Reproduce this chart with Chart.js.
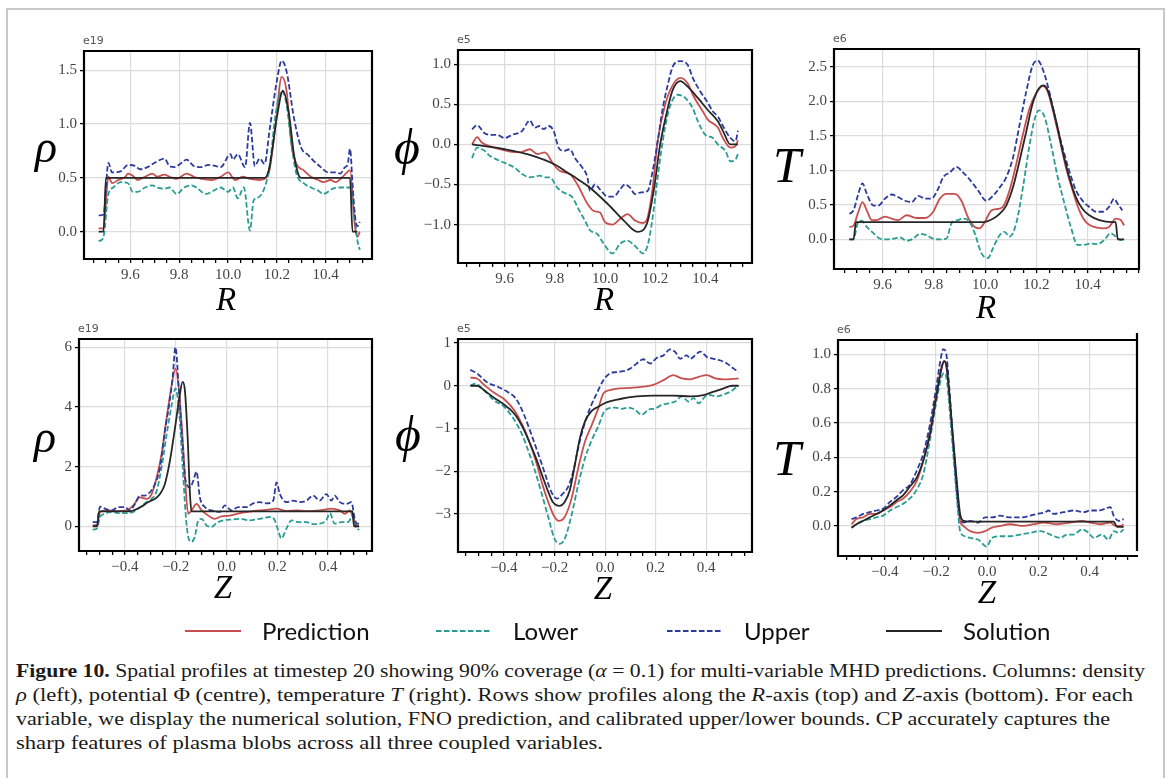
<!DOCTYPE html>
<html>
<head>
<meta charset="utf-8">
<script src="https://cdn.jsdelivr.net/npm/chart.js@4"></script>
<style>
  body { margin: 0; background: #fff; width: 1167px; height: 778px; position: relative; overflow: hidden; }
  .frame { position: absolute; left: 6px; top: 8px; width: 1155px; height: 800px; border: 2px solid #c8c8c8; border-bottom: none; }
  canvas { position: absolute; }
  .ax { position: absolute; font-family: "Liberation Serif", "DejaVu Serif", serif; font-style: italic; line-height: 1; color: #000; transform: translate(-50%, -50%); white-space: nowrap; }
  .expo { position: absolute; font-family: "DejaVu Sans", sans-serif; font-size: 11px; line-height: 11px; color: #555; }
  .leg { position: absolute; font-family: Lato, "Open Sans", sans-serif; font-size: 24px; line-height: 24px; color: #111; white-space: nowrap; }
  .cap { position: absolute; left: 16px; top: 659px; font-family: "Liberation Serif", serif; font-size: 19px; line-height: 24px; color: #1a1a1a; }
  .cap span.l { display: block; white-space: nowrap; transform-origin: 0 0; width: max-content; }
</style>
</head>
<body>
<div class="frame"></div>
<div class="cap" id="cap">
  <span class="l"><b>Figure 10.</b> Spatial profiles at timestep 20 showing 90% coverage (<i>α</i> = 0.1) for multi-variable MHD predictions. Columns: density</span>
  <span class="l"><i>ρ</i> (left), potential Φ (centre), temperature <i>T</i> (right). Rows show profiles along the <i>R</i>-axis (top) and <i>Z</i>-axis (bottom). For each</span>
  <span class="l">variable, we display the numerical solution, FNO prediction, and calibrated upper/lower bounds. CP accurately captures the</span>
  <span class="l">sharp features of plasma blobs across all three coupled variables.</span>
</div>
<script>
// ---- data: [position, value] pairs ----
const seriesNames = ['Prediction', 'Lower', 'Upper', 'Solution'];
const rTicks = [9.6, 9.8, 10.0, 10.2, 10.4];
const zTicks = [-0.4, -0.2, 0.0, 0.2, 0.4];

// density along R (e19)
const rhoR_yTicks = [0.0, 0.5, 1.0, 1.5];
const rhoR_pred = [[9.47,0.03],[9.49,0.03],[9.51,0.51],[9.525,0.45],[9.55,0.48],[9.58,0.51],[9.59,0.54],[9.61,0.52],[9.63,0.48],[9.66,0.51],[9.69,0.54],[9.71,0.51],[9.74,0.53],[9.76,0.51],[9.79,0.49],[9.83,0.54],[9.86,0.51],[9.89,0.49],[9.935,0.48],[9.97,0.51],[10.00,0.55],[10.03,0.48],[10.06,0.51],[10.09,0.49],[10.13,0.48],[10.16,0.51],[10.17,0.57],[10.195,1.00],[10.22,1.44],[10.24,1.31],[10.26,0.81],[10.28,0.63],[10.31,0.57],[10.34,0.51],[10.37,0.48],[10.39,0.46],[10.42,0.48],[10.44,0.46],[10.47,0.51],[10.50,0.57],[10.52,0.05],[10.53,-0.05],[10.54,0.00]];
const rhoR_lo = [[9.47,-0.09],[9.48,-0.08],[9.49,-0.05],[9.51,0.35],[9.53,0.41],[9.56,0.46],[9.59,0.45],[9.61,0.37],[9.63,0.37],[9.66,0.41],[9.69,0.43],[9.71,0.41],[9.74,0.40],[9.76,0.41],[9.79,0.35],[9.82,0.41],[9.85,0.43],[9.87,0.41],[9.91,0.35],[9.94,0.38],[9.97,0.41],[10.00,0.37],[10.02,0.41],[10.04,0.31],[10.065,0.41],[10.09,0.01],[10.105,0.29],[10.125,0.32],[10.15,0.41],[10.17,0.60],[10.195,1.09],[10.22,1.31],[10.24,1.18],[10.26,0.81],[10.28,0.54],[10.31,0.45],[10.34,0.41],[10.37,0.38],[10.39,0.35],[10.43,0.40],[10.46,0.41],[10.50,0.41],[10.515,0.23],[10.53,-0.08],[10.54,-0.17]];
const rhoR_up = [[9.47,0.15],[9.49,0.16],[9.51,0.64],[9.525,0.55],[9.56,0.56],[9.59,0.62],[9.62,0.61],[9.64,0.58],[9.67,0.60],[9.70,0.64],[9.74,0.68],[9.76,0.61],[9.78,0.60],[9.81,0.64],[9.83,0.67],[9.86,0.61],[9.89,0.60],[9.92,0.62],[9.95,0.61],[9.97,0.60],[10.01,0.72],[10.02,0.67],[10.04,0.72],[10.07,0.60],[10.09,1.01],[10.11,0.61],[10.13,0.68],[10.15,0.63],[10.17,0.94],[10.20,1.40],[10.22,1.59],[10.24,1.49],[10.27,1.06],[10.30,0.78],[10.33,0.71],[10.35,0.66],[10.38,0.60],[10.41,0.55],[10.44,0.55],[10.46,0.54],[10.48,0.60],[10.49,0.62],[10.50,0.77],[10.51,0.45],[10.52,0.15],[10.53,0.05],[10.54,0.09]];
const rhoR_sol = [[9.47,0],[9.49,0],[9.50,0.5],[10.15,0.5],[10.17,0.6],[10.20,1.06],[10.225,1.31],[10.25,1.09],[10.27,0.72],[10.29,0.52],[10.30,0.5],[10.50,0.5],[10.51,0],[10.53,0]];

// potential along R (e5)
const phiR_yTicks = [-1.0, -0.5, 0.0, 0.5, 1.0];
const phiR_pred = [[9.47,0.0],[9.49,0.09],[9.51,0.02],[9.54,-0.02],[9.58,-0.06],[9.62,-0.09],[9.66,-0.10],[9.70,-0.06],[9.73,-0.12],[9.76,-0.10],[9.795,-0.25],[9.82,-0.33],[9.86,-0.37],[9.89,-0.50],[9.93,-0.74],[9.955,-0.83],[9.98,-0.85],[10.00,-0.97],[10.03,-1.0],[10.06,-0.93],[10.09,-0.87],[10.12,-0.95],[10.15,-0.98],[10.17,-0.91],[10.19,-0.54],[10.21,0.04],[10.24,0.50],[10.27,0.74],[10.30,0.83],[10.33,0.76],[10.35,0.62],[10.39,0.41],[10.41,0.31],[10.45,0.21],[10.47,0.08],[10.50,-0.04],[10.52,-0.02],[10.53,0.05]];
const phiR_lo = [[9.47,-0.17],[9.49,-0.04],[9.52,-0.08],[9.54,-0.14],[9.57,-0.19],[9.60,-0.23],[9.64,-0.29],[9.67,-0.37],[9.70,-0.41],[9.74,-0.39],[9.76,-0.41],[9.78,-0.41],[9.81,-0.54],[9.835,-0.60],[9.87,-0.66],[9.895,-0.81],[9.92,-0.95],[9.94,-1.07],[9.97,-1.12],[9.995,-1.24],[10.03,-1.36],[10.06,-1.24],[10.09,-1.20],[10.11,-1.24],[10.13,-1.30],[10.15,-1.36],[10.17,-1.26],[10.19,-0.91],[10.21,-0.41],[10.23,0.04],[10.25,0.37],[10.27,0.56],[10.29,0.62],[10.32,0.58],[10.35,0.45],[10.37,0.29],[10.40,0.12],[10.43,0.08],[10.45,0.0],[10.48,-0.08],[10.50,-0.21],[10.52,-0.19],[10.53,-0.12]];
const phiR_up = [[9.47,0.19],[9.49,0.24],[9.52,0.14],[9.54,0.12],[9.57,0.12],[9.60,0.08],[9.63,0.12],[9.67,0.17],[9.69,0.27],[9.70,0.30],[9.72,0.21],[9.74,0.23],[9.755,0.19],[9.775,0.23],[9.795,0.17],[9.815,-0.04],[9.835,-0.08],[9.86,-0.06],[9.88,-0.17],[9.91,-0.29],[9.93,-0.41],[9.94,-0.58],[9.96,-0.50],[9.98,-0.56],[10.01,-0.65],[10.035,-0.65],[10.06,-0.56],[10.08,-0.50],[10.10,-0.54],[10.12,-0.62],[10.14,-0.60],[10.17,-0.58],[10.19,-0.33],[10.21,0.04],[10.23,0.45],[10.25,0.74],[10.27,0.97],[10.30,1.04],[10.33,0.99],[10.35,0.83],[10.38,0.66],[10.41,0.52],[10.43,0.41],[10.45,0.35],[10.47,0.23],[10.50,0.08],[10.52,0.04],[10.53,0.17]];
const phiR_sol = [[9.47,0],[9.60,-0.06],[9.70,-0.13],[9.80,-0.25],[9.85,-0.35],[9.89,-0.43],[9.94,-0.54],[10.01,-0.74],[10.075,-0.95],[10.13,-1.09],[10.167,-0.99],[10.194,-0.58],[10.22,0.0],[10.25,0.45],[10.27,0.68],[10.30,0.79],[10.33,0.72],[10.37,0.58],[10.41,0.43],[10.45,0.29],[10.47,0.17],[10.50,0.0],[10.53,0.0]];

// temperature along R (e6)
const TR_yTicks = [0.0, 0.5, 1.0, 1.5, 2.0, 2.5];
const TR_pred = [[9.47,0.18],[9.486,0.20],[9.505,0.40],[9.521,0.54],[9.538,0.42],[9.557,0.28],[9.577,0.28],[9.609,0.33],[9.635,0.30],[9.661,0.28],[9.693,0.35],[9.732,0.31],[9.765,0.31],[9.797,0.40],[9.823,0.59],[9.849,0.66],[9.881,0.66],[9.907,0.56],[9.933,0.32],[9.959,0.18],[9.978,0.16],[9.998,0.25],[10.024,0.42],[10.049,0.44],[10.069,0.47],[10.095,0.71],[10.121,1.09],[10.147,1.52],[10.173,1.90],[10.198,2.11],[10.224,2.22],[10.244,2.14],[10.263,1.88],[10.289,1.47],[10.315,1.04],[10.341,0.71],[10.367,0.42],[10.393,0.25],[10.425,0.18],[10.458,0.16],[10.483,0.18],[10.509,0.30],[10.529,0.28],[10.542,0.20]];
const TR_lo = [[9.47,0.0],[9.486,0.0],[9.502,0.23],[9.518,0.27],[9.538,0.18],[9.564,0.09],[9.59,0.01],[9.616,0.0],[9.641,0.01],[9.667,0.03],[9.693,-0.02],[9.719,0.01],[9.745,0.08],[9.771,0.06],[9.797,0.01],[9.823,0.0],[9.849,0.01],[9.868,0.23],[9.894,0.28],[9.913,0.30],[9.933,0.28],[9.959,0.09],[9.985,-0.20],[10.011,-0.27],[10.03,-0.13],[10.056,0.06],[10.075,0.11],[10.095,0.04],[10.121,0.23],[10.147,0.75],[10.173,1.37],[10.192,1.73],[10.209,1.87],[10.231,1.78],[10.257,1.37],[10.283,0.90],[10.309,0.52],[10.334,0.18],[10.36,-0.08],[10.386,-0.08],[10.412,-0.06],[10.438,-0.07],[10.464,-0.01],[10.49,0.09],[10.509,0.04],[10.529,-0.01],[10.539,0.0]];
const TR_up = [[9.47,0.37],[9.486,0.42],[9.505,0.66],[9.521,0.81],[9.538,0.66],[9.564,0.49],[9.583,0.49],[9.609,0.59],[9.635,0.65],[9.661,0.61],[9.687,0.56],[9.713,0.54],[9.739,0.63],[9.765,0.59],[9.79,0.59],[9.816,0.73],[9.836,0.90],[9.862,0.97],[9.888,1.05],[9.913,0.97],[9.939,0.87],[9.972,0.71],[10.004,0.56],[10.03,0.63],[10.056,0.75],[10.082,0.90],[10.108,1.18],[10.134,1.66],[10.16,2.14],[10.185,2.52],[10.205,2.59],[10.224,2.47],[10.25,2.14],[10.276,1.71],[10.302,1.33],[10.328,0.99],[10.354,0.71],[10.38,0.56],[10.406,0.47],[10.432,0.40],[10.458,0.40],[10.483,0.47],[10.503,0.59],[10.516,0.52],[10.535,0.42]];
const TR_sol = [[9.47,0],[9.486,0],[9.496,0.25],[9.99,0.25],[10.03,0.30],[10.056,0.37],[10.082,0.49],[10.108,0.75],[10.134,1.14],[10.16,1.56],[10.185,1.97],[10.21,2.19],[10.227,2.23],[10.244,2.16],[10.263,1.92],[10.283,1.61],[10.302,1.28],[10.328,0.90],[10.354,0.61],[10.38,0.44],[10.406,0.35],[10.445,0.28],[10.496,0.25],[10.509,0.25],[10.517,0],[10.542,0]];

// density along Z (e19)
const rhoZ_yTicks = [0, 2, 4, 6];
const rhoZ_pred = [[-0.527,0.03],[-0.509,0.07],[-0.498,0.48],[-0.472,0.53],[-0.433,0.51],[-0.393,0.53],[-0.367,0.70],[-0.341,0.97],[-0.315,0.92],[-0.295,1.08],[-0.275,1.64],[-0.256,2.41],[-0.236,3.62],[-0.216,4.73],[-0.201,5.28],[-0.188,4.62],[-0.173,2.96],[-0.161,1.30],[-0.151,0.42],[-0.138,0.53],[-0.118,0.75],[-0.098,0.53],[-0.072,0.36],[-0.046,0.25],[-0.02,0.33],[0.013,0.36],[0.052,0.44],[0.105,0.51],[0.157,0.55],[0.197,0.59],[0.236,0.51],[0.275,0.53],[0.315,0.51],[0.367,0.53],[0.413,0.59],[0.446,0.53],[0.466,0.42],[0.485,0.53],[0.498,0.31],[0.509,0.07],[0.522,-0.02]];
const rhoZ_lo = [[-0.527,-0.11],[-0.511,-0.08],[-0.498,0.31],[-0.479,0.42],[-0.452,0.48],[-0.42,0.44],[-0.393,0.44],[-0.367,0.48],[-0.341,0.64],[-0.315,0.81],[-0.295,0.92],[-0.275,1.19],[-0.256,1.97],[-0.236,3.07],[-0.216,4.07],[-0.201,4.62],[-0.188,3.96],[-0.174,2.19],[-0.161,0.42],[-0.151,-0.35],[-0.138,-0.52],[-0.125,-0.35],[-0.111,0.20],[-0.098,0.25],[-0.079,0.03],[-0.059,-0.02],[-0.039,0.11],[-0.013,0.20],[0.013,0.22],[0.052,0.25],[0.092,0.20],[0.131,0.25],[0.17,0.31],[0.19,0.20],[0.203,-0.13],[0.216,-0.41],[0.236,-0.08],[0.256,0.20],[0.282,0.14],[0.315,0.14],[0.341,0.07],[0.367,0.09],[0.393,0.20],[0.407,0.44],[0.426,0.09],[0.452,0.14],[0.479,0.14],[0.496,0.36],[0.509,-0.02],[0.522,-0.13]];
const rhoZ_up = [[-0.527,0.14],[-0.511,0.14],[-0.498,0.66],[-0.479,0.59],[-0.452,0.53],[-0.426,0.64],[-0.40,0.64],[-0.38,0.53],[-0.361,0.75],[-0.341,1.03],[-0.321,1.03],[-0.302,1.14],[-0.282,1.41],[-0.262,1.97],[-0.243,3.18],[-0.226,4.07],[-0.212,5.0],[-0.201,6.0],[-0.188,4.62],[-0.174,2.85],[-0.161,1.52],[-0.144,1.30],[-0.131,1.52],[-0.118,1.83],[-0.105,0.97],[-0.085,0.64],[-0.059,0.53],[-0.026,0.48],[-0.007,0.70],[0.02,0.53],[0.046,0.64],[0.079,0.64],[0.105,0.77],[0.131,0.81],[0.157,0.77],[0.184,0.86],[0.197,1.47],[0.21,1.08],[0.236,0.81],[0.262,0.86],[0.289,0.81],[0.315,0.86],[0.341,1.03],[0.367,0.86],[0.393,1.08],[0.413,0.86],[0.426,1.03],[0.446,0.81],[0.472,0.75],[0.492,0.81],[0.505,0.25],[0.514,0.09],[0.522,0.09]];
const rhoZ_sol = [[-0.527,0],[-0.509,0],[-0.502,0.5],[-0.38,0.5],[-0.361,0.55],[-0.334,0.66],[-0.308,0.81],[-0.282,0.92],[-0.262,1.08],[-0.243,1.41],[-0.223,2.19],[-0.203,3.29],[-0.186,4.29],[-0.173,4.84],[-0.164,4.56],[-0.153,2.96],[-0.144,1.08],[-0.138,0.5],[0.496,0.5],[0.502,0],[0.522,0]];

// potential along Z (e5)
const phiZ_yTicks = [-3, -2, -1, 0, 1];
const phiZ_pred = [[-0.533,0.19],[-0.507,0.17],[-0.48,0.03],[-0.44,-0.16],[-0.40,-0.31],[-0.36,-0.57],[-0.327,-0.92],[-0.30,-1.31],[-0.273,-1.78],[-0.247,-2.33],[-0.22,-2.80],[-0.2,-3.07],[-0.183,-3.16],[-0.16,-3.07],[-0.133,-2.64],[-0.107,-1.94],[-0.08,-1.31],[-0.053,-0.92],[-0.027,-0.53],[-0.007,-0.18],[0.019,-0.10],[0.059,-0.06],[0.099,-0.05],[0.151,-0.02],[0.191,0.02],[0.231,0.13],[0.27,0.25],[0.303,0.17],[0.337,0.15],[0.370,0.21],[0.403,0.25],[0.436,0.17],[0.469,0.15],[0.528,0.17]];
const phiZ_lo = [[-0.533,0.0],[-0.513,0.05],[-0.48,-0.10],[-0.44,-0.34],[-0.40,-0.49],[-0.367,-0.73],[-0.333,-1.08],[-0.307,-1.47],[-0.28,-1.94],[-0.253,-2.48],[-0.227,-3.03],[-0.2,-3.58],[-0.18,-3.70],[-0.16,-3.58],[-0.133,-3.03],[-0.107,-2.33],[-0.08,-1.70],[-0.053,-1.27],[-0.027,-0.95],[-0.005,-0.62],[0.013,-0.53],[0.039,-0.51],[0.065,-0.54],[0.092,-0.51],[0.118,-0.56],[0.145,-0.68],[0.171,-0.56],[0.198,-0.53],[0.224,-0.45],[0.251,-0.41],[0.277,-0.37],[0.303,-0.25],[0.33,-0.37],[0.35,-0.29],[0.37,-0.41],[0.396,-0.25],[0.416,-0.22],[0.442,-0.25],[0.469,-0.20],[0.495,-0.14],[0.528,0.0]];
const phiZ_up = [[-0.533,0.37],[-0.507,0.29],[-0.467,0.08],[-0.427,-0.02],[-0.387,-0.14],[-0.353,-0.30],[-0.32,-0.69],[-0.293,-1.12],[-0.267,-1.55],[-0.24,-2.02],[-0.213,-2.48],[-0.19,-2.64],[-0.167,-2.52],[-0.147,-2.37],[-0.127,-2.02],[-0.107,-1.47],[-0.087,-1.0],[-0.06,-0.53],[-0.033,-0.18],[-0.007,0.13],[0.019,0.29],[0.046,0.32],[0.072,0.34],[0.099,0.40],[0.125,0.52],[0.151,0.62],[0.178,0.52],[0.204,0.65],[0.231,0.71],[0.257,0.85],[0.277,0.79],[0.297,0.63],[0.323,0.71],[0.337,0.63],[0.356,0.71],[0.376,0.80],[0.403,0.67],[0.429,0.63],[0.456,0.59],[0.482,0.52],[0.508,0.40],[0.528,0.32]];
const phiZ_sol = [[-0.533,0],[-0.507,0],[-0.48,-0.10],[-0.44,-0.28],[-0.40,-0.44],[-0.36,-0.65],[-0.327,-0.96],[-0.30,-1.31],[-0.273,-1.70],[-0.247,-2.13],[-0.227,-2.45],[-0.207,-2.72],[-0.18,-2.81],[-0.16,-2.72],[-0.14,-2.45],[-0.12,-1.86],[-0.10,-1.23],[-0.08,-0.84],[-0.053,-0.59],[-0.027,-0.49],[0.006,-0.39],[0.059,-0.31],[0.125,-0.25],[0.191,-0.23],[0.27,-0.23],[0.337,-0.25],[0.389,-0.22],[0.429,-0.14],[0.469,-0.06],[0.502,0],[0.528,0]];

// temperature along Z (e6)
const TZ_yTicks = [0.0, 0.2, 0.4, 0.6, 0.8, 1.0];
const TZ_pred = [[-0.53,0.01],[-0.511,0.04],[-0.485,0.05],[-0.459,0.07],[-0.433,0.07],[-0.407,0.09],[-0.38,0.11],[-0.354,0.14],[-0.328,0.16],[-0.302,0.20],[-0.276,0.26],[-0.25,0.38],[-0.224,0.55],[-0.198,0.78],[-0.178,0.93],[-0.169,0.96],[-0.159,0.92],[-0.139,0.59],[-0.119,0.24],[-0.106,0.03],[-0.093,0.0],[-0.067,-0.03],[-0.035,-0.04],[-0.008,-0.03],[0.018,-0.01],[0.05,0.0],[0.089,0.01],[0.142,0.0],[0.181,0.01],[0.22,0.02],[0.272,0.01],[0.324,0.02],[0.37,0.03],[0.403,0.02],[0.442,0.01],[0.481,0.02],[0.50,0.0],[0.52,0.0],[0.533,0.01]];
const TZ_lo = [[-0.53,-0.01],[-0.511,0.01],[-0.485,0.03],[-0.459,0.04],[-0.433,0.05],[-0.407,0.06],[-0.38,0.09],[-0.354,0.11],[-0.328,0.13],[-0.302,0.16],[-0.276,0.21],[-0.25,0.30],[-0.224,0.50],[-0.198,0.73],[-0.178,0.87],[-0.169,0.89],[-0.159,0.86],[-0.139,0.53],[-0.119,0.17],[-0.106,-0.03],[-0.087,-0.06],[-0.067,-0.07],[-0.035,-0.08],[-0.002,-0.12],[0.018,-0.07],[0.05,-0.06],[0.089,-0.06],[0.129,-0.05],[0.168,-0.04],[0.207,-0.03],[0.246,-0.05],[0.285,-0.07],[0.311,-0.05],[0.337,-0.05],[0.37,-0.02],[0.396,-0.04],[0.416,-0.07],[0.448,-0.05],[0.474,-0.08],[0.494,-0.03],[0.514,-0.04],[0.533,-0.02]];
const TZ_up = [[-0.53,0.04],[-0.511,0.05],[-0.485,0.07],[-0.459,0.08],[-0.433,0.09],[-0.407,0.10],[-0.38,0.14],[-0.354,0.17],[-0.328,0.21],[-0.302,0.24],[-0.276,0.32],[-0.25,0.42],[-0.224,0.59],[-0.198,0.82],[-0.181,0.98],[-0.172,1.03],[-0.161,1.01],[-0.148,0.80],[-0.132,0.46],[-0.113,0.11],[-0.093,0.02],[-0.067,0.03],[-0.035,0.02],[-0.008,0.05],[0.018,0.05],[0.05,0.06],[0.089,0.05],[0.129,0.05],[0.168,0.06],[0.194,0.07],[0.226,0.08],[0.239,0.09],[0.259,0.07],[0.298,0.08],[0.337,0.09],[0.377,0.08],[0.403,0.09],[0.435,0.09],[0.461,0.10],[0.481,0.11],[0.494,0.06],[0.514,0.03],[0.533,0.04]];
const TZ_sol = [[-0.53,-0.01],[-0.511,0.01],[-0.485,0.03],[-0.459,0.05],[-0.433,0.07],[-0.407,0.09],[-0.38,0.12],[-0.354,0.15],[-0.328,0.18],[-0.302,0.23],[-0.276,0.28],[-0.25,0.38],[-0.224,0.53],[-0.198,0.76],[-0.178,0.92],[-0.168,0.96],[-0.159,0.93],[-0.139,0.61],[-0.119,0.26],[-0.106,0.07],[-0.093,0.03],[-0.067,0.025],[0.494,0.025],[0.507,-0.005],[0.533,-0.005]];

// ---- styles & layout ----
const colors = ['#c84f4f', '#2a9d93', '#2d3b9b', '#262626'];
const dashes = [[], [5.5, 2.5], [5.5, 2.5], []];

const panels = [
  { box: [84, 49, 372, 259], xr: [9.41, 10.59], yr: [-0.255, 1.68], xt: rTicks, yt: rhoR_yTicks, yd: 1, ylab: 'ρ', xlab: 'R', expo: 'e19', data: [rhoR_pred, rhoR_lo, rhoR_up, rhoR_sol], lc: [46, 157], xc: [226, 299] },
  { box: [458, 48, 752, 263], xr: [9.414, 10.586], yr: [-1.479, 1.178], xt: rTicks, yt: phiR_yTicks, yd: 1, ylab: 'ϕ', xlab: 'R', expo: 'e5', data: [phiR_pred, phiR_lo, phiR_up, phiR_sol], lc: [407, 152], xc: [604, 299] },
  { box: [834, 47, 1139, 269], xr: [9.41, 10.60], yr: [-0.429, 2.758], xt: rTicks, yt: TR_yTicks, yd: 1, ylab: 'T', xlab: 'R', expo: 'e6', data: [TR_pred, TR_lo, TR_up, TR_sol], lc: [787, 165], xc: [986, 307] },
  { box: [79, 337, 372, 551], xr: [-0.581, 0.573], yr: [-0.829, 6.276], xt: zTicks, yt: rhoZ_yTicks, yd: 0, ylab: 'ρ', xlab: 'Z', expo: 'e19', data: [rhoZ_pred, rhoZ_lo, rhoZ_up, rhoZ_sol], lc: [45, 447], xc: [223, 587] },
  { box: [458, 337, 752, 552], xr: [-0.582, 0.581], yr: [-3.888, 1.093], xt: zTicks, yt: phiZ_yTicks, yd: 0, ylab: 'ϕ', xlab: 'Z', expo: 'e5', data: [phiZ_pred, phiZ_lo, phiZ_up, phiZ_sol], lc: [408, 439], xc: [603, 588] },
  { box: [838, 338, 1137, 556], xr: [-0.583, 0.585], yr: [-0.175, 1.083], xt: zTicks, yt: TZ_yTicks, yd: 1, ylab: 'T', xlab: 'Z', expo: 'e6', data: [TZ_pred, TZ_lo, TZ_up, TZ_sol], lc: [787, 458], xc: [987, 592], shift: 6 }
];

const fmt = (v, d) => (Math.abs(v) < 1e-9 ? (0).toFixed(d) : v.toFixed(d)).replace('-', '\u2212');
const isMaj = (v, list) => list.some(m => Math.abs(m - v) < 1e-6);
function minorTicks(r) {
  const out = [];
  for (let k = Math.ceil(r[0] / 0.05 - 1e-9); k <= Math.floor(r[1] / 0.05 + 1e-9); k++) out.push(Math.round(k * 5) / 100);
  return out;
}

// black frame round the plot area (chart 6 has its right spine offset)
const boxPlugin = {
  id: 'box',
  afterDraw(chart, args, opts) {
    const a = chart.chartArea, c = chart.ctx, s = opts.shift || 0;
    c.save();
    c.strokeStyle = '#000';
    c.lineWidth = 2.2;
    c.beginPath();
    c.moveTo(a.left, a.top - 1); c.lineTo(a.left, a.bottom + 1);
    c.moveTo(a.left - 1, a.bottom); c.lineTo(a.right + 1, a.bottom);
    c.moveTo(a.left - 1, a.top); c.lineTo(a.right + 1, a.top);
    c.moveTo(a.right, a.top - 1 - s); c.lineTo(a.right, a.bottom + 1 - s);
    c.stroke();
    c.restore();
  }
};

const tickFont = { family: 'Liberation Serif', size: 15 };

function addText(cls, txt, style) {
  const d = document.createElement('div');
  d.className = cls;
  d.textContent = txt;
  Object.assign(d.style, style);
  document.body.appendChild(d);
  return d;
}

panels.forEach(p => {
  const [l, t, r, b] = p.box;
  const cv = document.createElement('canvas');
  cv.width = r - l + 65;
  cv.height = b - t + 35;
  cv.style.left = (l - 55) + 'px';
  cv.style.top = (t - 10) + 'px';
  document.body.appendChild(cv);

  new Chart(cv, {
    type: 'line',
    data: {
      datasets: p.data.map((d, i) => ({
        label: seriesNames[i],
        data: d.map(([x, y]) => ({ x, y })),
        borderColor: colors[i],
        borderWidth: 1.8,
        borderDash: dashes[i],
        pointRadius: 0,
        cubicInterpolationMode: 'monotone',
        fill: false,
        order: 3 - i
      }))
    },
    options: {
      responsive: false,
      animation: false,
      layout: { padding: { top: 10, right: 10, left: 0, bottom: 0 } },
      plugins: { legend: { display: false }, tooltip: { enabled: false }, box: { shift: p.shift || 0 } },
      scales: {
        x: {
          type: 'linear', min: p.xr[0], max: p.xr[1],
          afterBuildTicks: s => { s.ticks = minorTicks(p.xr).map(v => ({ value: v })); },
          afterFit: s => { s.height = 25; },
          ticks: { autoSkip: false, maxRotation: 0, minRotation: 0, padding: 3, font: tickFont, color: '#444',
                   callback: v => isMaj(v, p.xt) ? fmt(v, 1) : '' },
          grid: { color: c => (c.tick && isMaj(c.tick.value, p.xt)) ? '#dcdcdc' : 'rgba(0,0,0,0)',
                  lineWidth: 1.2, tickColor: '#000', tickLength: 4, tickWidth: 1.3 },
          border: { display: false }
        },
        y: {
          type: 'linear', min: p.yr[0], max: p.yr[1],
          afterBuildTicks: s => { s.ticks = p.yt.map(v => ({ value: v })); },
          afterFit: s => { s.width = 55; },
          ticks: { padding: 3, font: tickFont, color: '#444', callback: v => fmt(v, p.yd) },
          grid: { color: '#dcdcdc', lineWidth: 1.2, tickColor: '#000', tickLength: 4, tickWidth: 1.3 },
          border: { display: false }
        }
      }
    },
    plugins: [boxPlugin]
  });

  // axis names and offset text
  const yF = p.ylab === 'T' ? 50 : (p.ylab === 'ϕ' ? 50 : 46);
  const yOff = p.ylab === 'ρ' ? -0.22 : (p.ylab === 'ϕ' ? -0.1 : 0);
  addText('ax', p.ylab, { left: p.lc[0] + 'px', top: (p.lc[1] + yOff * yF) + 'px', fontSize: yF + 'px' });
  addText('ax', p.xlab, { left: p.xc[0] + 'px', top: p.xc[1] + 'px', fontSize: '33px' });
  addText('expo', p.expo, { left: (l - 1) + 'px', top: (t - 14) + 'px' });
});

// legend
const legX = [185, 436, 667, 886];
seriesNames.forEach((n, i) => {
  const svg = document.createElementNS('http://www.w3.org/2000/svg', 'svg');
  svg.setAttribute('width', 56); svg.setAttribute('height', 6);
  svg.style.position = 'absolute';
  svg.style.left = legX[i] + 'px';
  svg.style.top = '628px';
  const ln = document.createElementNS('http://www.w3.org/2000/svg', 'line');
  ln.setAttribute('x1', 0); ln.setAttribute('x2', 56); ln.setAttribute('y1', 3); ln.setAttribute('y2', 3);
  ln.setAttribute('stroke', colors[i]); ln.setAttribute('stroke-width', 1.8);
  if (dashes[i].length) ln.setAttribute('stroke-dasharray', dashes[i].join(' '));
  svg.appendChild(ln);
  document.body.appendChild(svg);
  addText('leg', n, { left: (legX[i] + 77) + 'px', top: '619px' });
});

// stretch caption lines to the measured widths of the reference
const capW = [1129, 1117, 1094, 587];
document.querySelectorAll('#cap span.l').forEach((s, i) => {
  const w = s.getBoundingClientRect().width;
  if (w > 0) s.style.transform = 'scaleX(' + (capW[i] / w).toFixed(4) + ')';
});
</script>
</body>
</html>
